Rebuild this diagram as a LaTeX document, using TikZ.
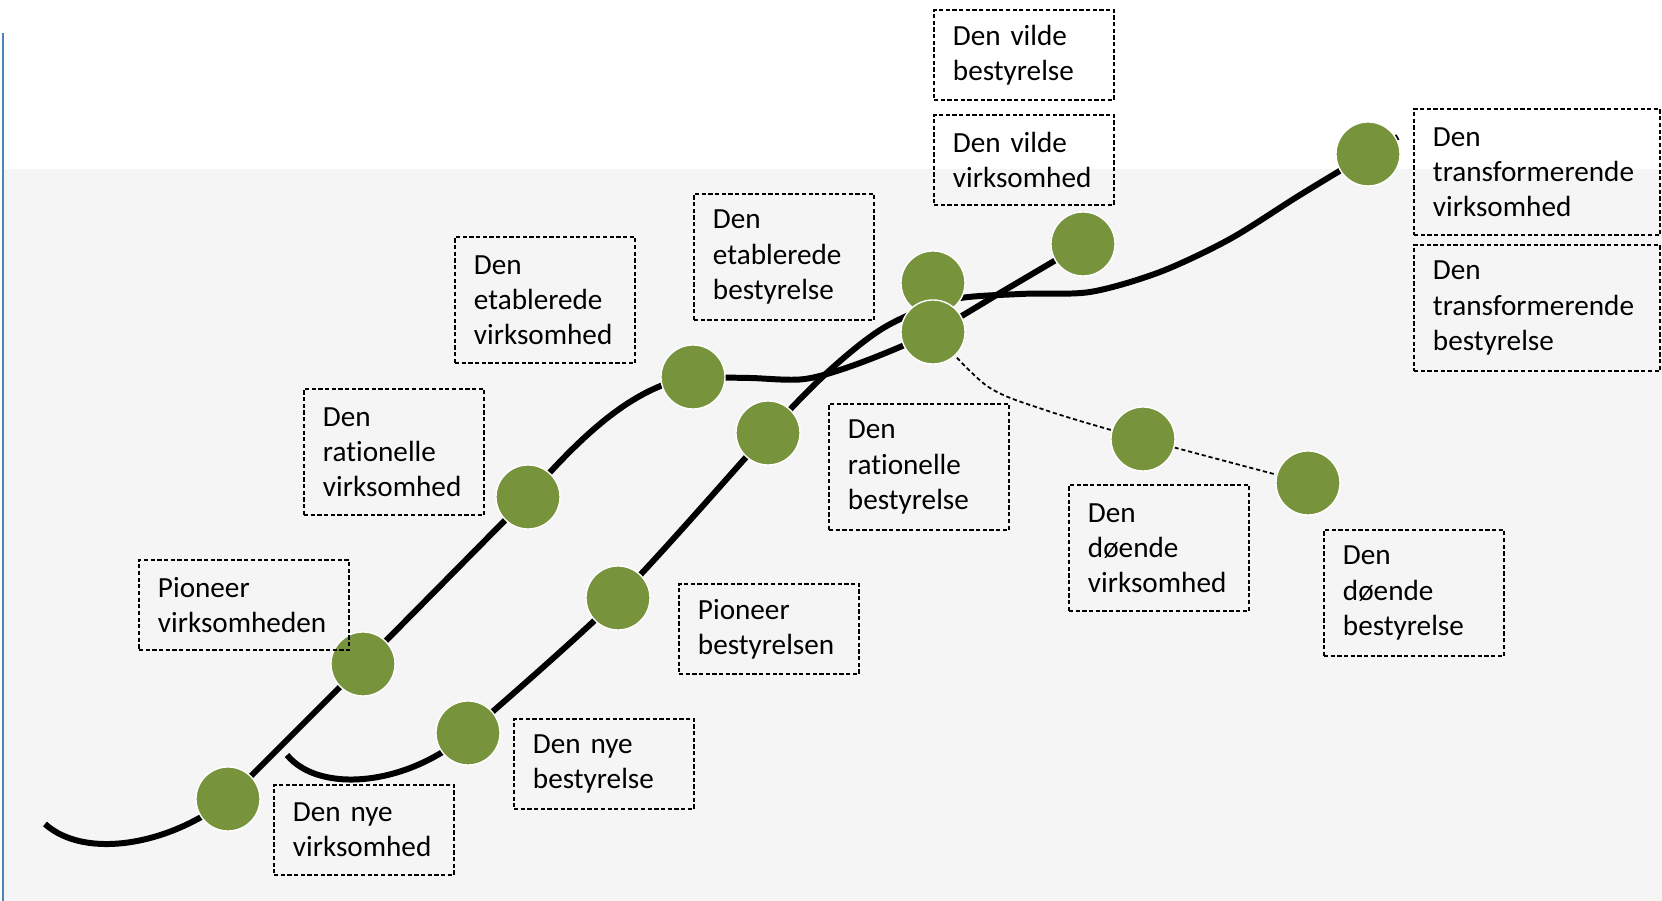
\documentclass[tikz,border=0pt]{standalone}
\usepackage{fontspec}
\setmainfont{Carlito}[Ligatures=NoCommon]
\definecolor{dotgreen}{RGB}{119,147,60}
\definecolor{paper}{RGB}{245,245,245}
\definecolor{edgeblue}{RGB}{79,129,189}
\tikzset{
  stage/.style={draw, dash pattern=on 1.2pt off 0.7pt, line width=0.55pt,
    anchor=north west, inner xsep=0.19cm, text width=1.42cm, minimum width=1.8cm,
    align=left, font=\fontsize{8.3}{10}\selectfont},
  twoline/.style={minimum height=0.9cm},
  threeline/.style={minimum height=1.26cm},
  widestage/.style={text width=2.08cm, minimum width=2.46cm},
  phase/.style={circle, fill=dotgreen, draw=white, line width=0.4pt,
    minimum size=0.64cm, inner sep=0pt},
  lifeline/.style={line width=1.7pt},
  decline/.style={line width=0.5pt, dash pattern=on 1.2pt off 0.8pt}
}
\begin{document}
\begin{tikzpicture}[x=0.01cm, y=-0.01cm]
  \useasboundingbox (0,0) rectangle (1662,901);
  \fill[paper] (4,169) rectangle (1662,901);
  \draw[edgeblue, line width=0.6pt] (3,33) -- (3,901);

  % phase points
  \coordinate (a1) at (228,799);
  \coordinate (a2) at (363,664);
  \coordinate (a3) at (528,497);
  \coordinate (a4) at (693,377);
  \coordinate (a5) at (933,332);
  \coordinate (a6) at (1083,244);
  \coordinate (b1) at (468,733);
  \coordinate (b2) at (618,598);
  \coordinate (b3) at (768,433);
  \coordinate (b4) at (933,283);
  \coordinate (b5) at (1368,154);
  \coordinate (d1) at (1143,439);
  \coordinate (d2) at (1308,483);

  % virksomhed
  \draw[lifeline] (45,824) .. controls (85,860) and (170,845) .. (a1) -- (a2) -- (a3)
    .. controls (590,425) and (640,385) .. (a4)
    plot[smooth] coordinates
    {(a4) (750,378) (805,379) (860,363) (a5) (1005,290) (a6) (1108,229)};
  % bestyrelse
  \draw[lifeline] (287,755) .. controls (320,795) and (410,785) .. (b1)
    plot[smooth] coordinates
    {(b1) (b2) (b3) (830,370) (885,327)
     (950,300) (1020,294) (1090,292) (1160,272) (1230,239) (1300,195) (b5) (1398,137)};
  % decline
  \draw[decline] plot[smooth] coordinates {(a5) (987,386) (1045,410) (d1) (d2)};

  \node[phase] (A1) at (a1) {};
  \node[phase] (A2) at (a2) {};
  \node[phase] (A3) at (a3) {};
  \node[phase] (A4) at (a4) {};
  \node[phase] (B1) at (b1) {};
  \node[phase] (B2) at (b2) {};
  \node[phase] (B3) at (b3) {};
  \node[phase] (B4) at (b4) {};
  \node[phase] (A5) at (a5) {};
  \node[phase] (A6) at (a6) {};
  \node[phase] (B5) at (b5) {};
  \node[phase] (D1) at (d1) {};
  \node[phase] (D2) at (d2) {};

  % labels
  \node[stage, twoline] (vildeB) at (933,9) {Den vilde\\bestyrelse};
  \node[stage, twoline] (vildeV) at (933,114) {Den vilde\\virksomhed};
  \node[stage, threeline, widestage] (transV) at (1413,108) {Den\\transformerende\\virksomhed};
  \node[stage, threeline, widestage] (transB) at (1413,244) {Den\\transformerende\\bestyrelse};
  \node[stage, threeline] (etabB) at (693,193) {Den\\etablerede\\bestyrelse};
  \node[stage, threeline] (etabV) at (454,236) {Den\\etablerede\\virksomhed};
  \node[stage, threeline] (ratV) at (303,388) {Den\\rationelle\\virksomhed};
  \node[stage, threeline] (ratB) at (828,403) {Den\\rationelle\\bestyrelse};
  \node[stage, twoline, text width=1.72cm, minimum width=2.1cm] (pionV) at (138,559) {Pioneer\\virksomheden};
  \node[stage, twoline] (pionB) at (678,583) {Pioneer\\bestyrelsen};
  \node[stage, twoline] (nyV) at (273,784) {Den nye\\virksomhed};
  \node[stage, twoline] (nyB) at (513,718) {Den nye\\bestyrelse};
  \node[stage, threeline] (doedV) at (1068,484) {Den\\døende\\virksomhed};
  \node[stage, threeline] (doedB) at (1323,529) {Den\\døende\\bestyrelse};
\end{tikzpicture}
\end{document}
